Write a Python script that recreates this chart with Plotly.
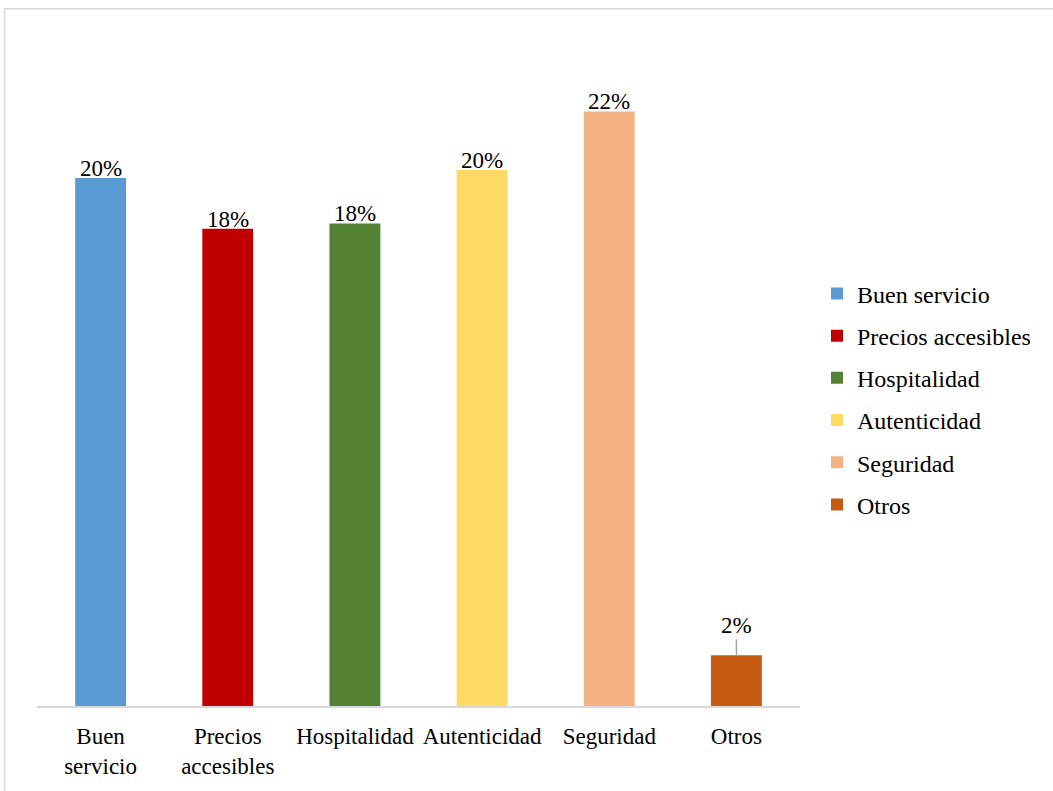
import plotly.graph_objects as go

categories = ["Buen servicio", "Precios accesibles", "Hospitalidad", "Autenticidad", "Seguridad", "Otros"]
tick_labels = ["Buen<br>servicio", "Precios<br>accesibles", "Hospitalidad", "Autenticidad", "Seguridad", "Otros"]
values = [19.8, 17.9, 18.1, 20.1, 22.3, 1.9]
colors = ["#5B9BD5", "#C00000", "#548235", "#FFD966", "#F4B183", "#C55A11"]

FONT = "Liberation Serif, Times New Roman, serif"
FS = 23

W, H = 1053, 791
ML, MR, MT, MB = 37, 253, 50, 80
plot_h = H - MT - MB
px_per_unit = 26.867
ymax = plot_h / px_per_unit

fig = go.Figure()
for i, (cat, v, c) in enumerate(zip(categories, values, colors)):
    fig.add_trace(go.Bar(
        x=[cat], y=[v], name=cat, marker_color=c, marker_line_width=0,
        legendgroup=f"g{i}", width=0.4, hoverinfo="skip",
    ))

annotations = []
for i, (cat, v) in enumerate(zip(categories, values)):
    txt = f"{v:.0f}%"
    if i == len(categories) - 1:
        annotations.append(dict(
            x=cat, y=v, xref="x", yref="y", text=txt, showarrow=True,
            ax=0, ay=-30, arrowhead=0, arrowwidth=1.5, arrowcolor="#a6a6a6",
            standoff=0, font=dict(family=FONT, size=FS, color="black"),
        ))
    else:
        annotations.append(dict(
            x=cat, y=v, xref="x", yref="y", text=txt, showarrow=False,
            yanchor="bottom", yshift=-5, font=dict(family=FONT, size=FS, color="black"),
        ))

plot_w = W - ML - MR
def px_x(p):
    return (p - ML) / plot_w
def px_y(p):
    return (H - MB - p) / plot_h

fig.add_shape(type="rect", xref="paper", yref="paper",
              x0=px_x(4.5), x1=px_x(1070), y0=px_y(810), y1=px_y(8.5),
              line=dict(color="#d9d9d9", width=1.5), fillcolor="rgba(0,0,0,0)", layer="below")

fig.update_layout(
    width=W, height=H,
    margin=dict(l=ML, r=MR, t=MT, b=MB, pad=0),
    paper_bgcolor="white", plot_bgcolor="white",
    barmode="overlay",
    font=dict(family=FONT, size=FS, color="black"),
    showlegend=True,
    legend=dict(x=px_x(817), y=px_y(402), xanchor="left", yanchor="middle",
                font=dict(family=FONT, size=24, color="black"),
                tracegroupgap=8, itemwidth=30, bgcolor="rgba(0,0,0,0)"),
    annotations=annotations,
    xaxis=dict(tickmode="array", tickvals=categories, ticktext=tick_labels,
               showline=True, linecolor="#d9d9d9", linewidth=2, ticks="",
               showgrid=False, zeroline=False, ticklabelstandoff=8,
               tickfont=dict(family=FONT, size=FS, color="black")),
    yaxis=dict(range=[0, ymax], visible=False, showgrid=False, zeroline=False),
)

fig.write_html("out.html", config={"displayModeBar": False},
               post_script="document.body.style.margin='0';document.body.style.overflow='hidden';")
